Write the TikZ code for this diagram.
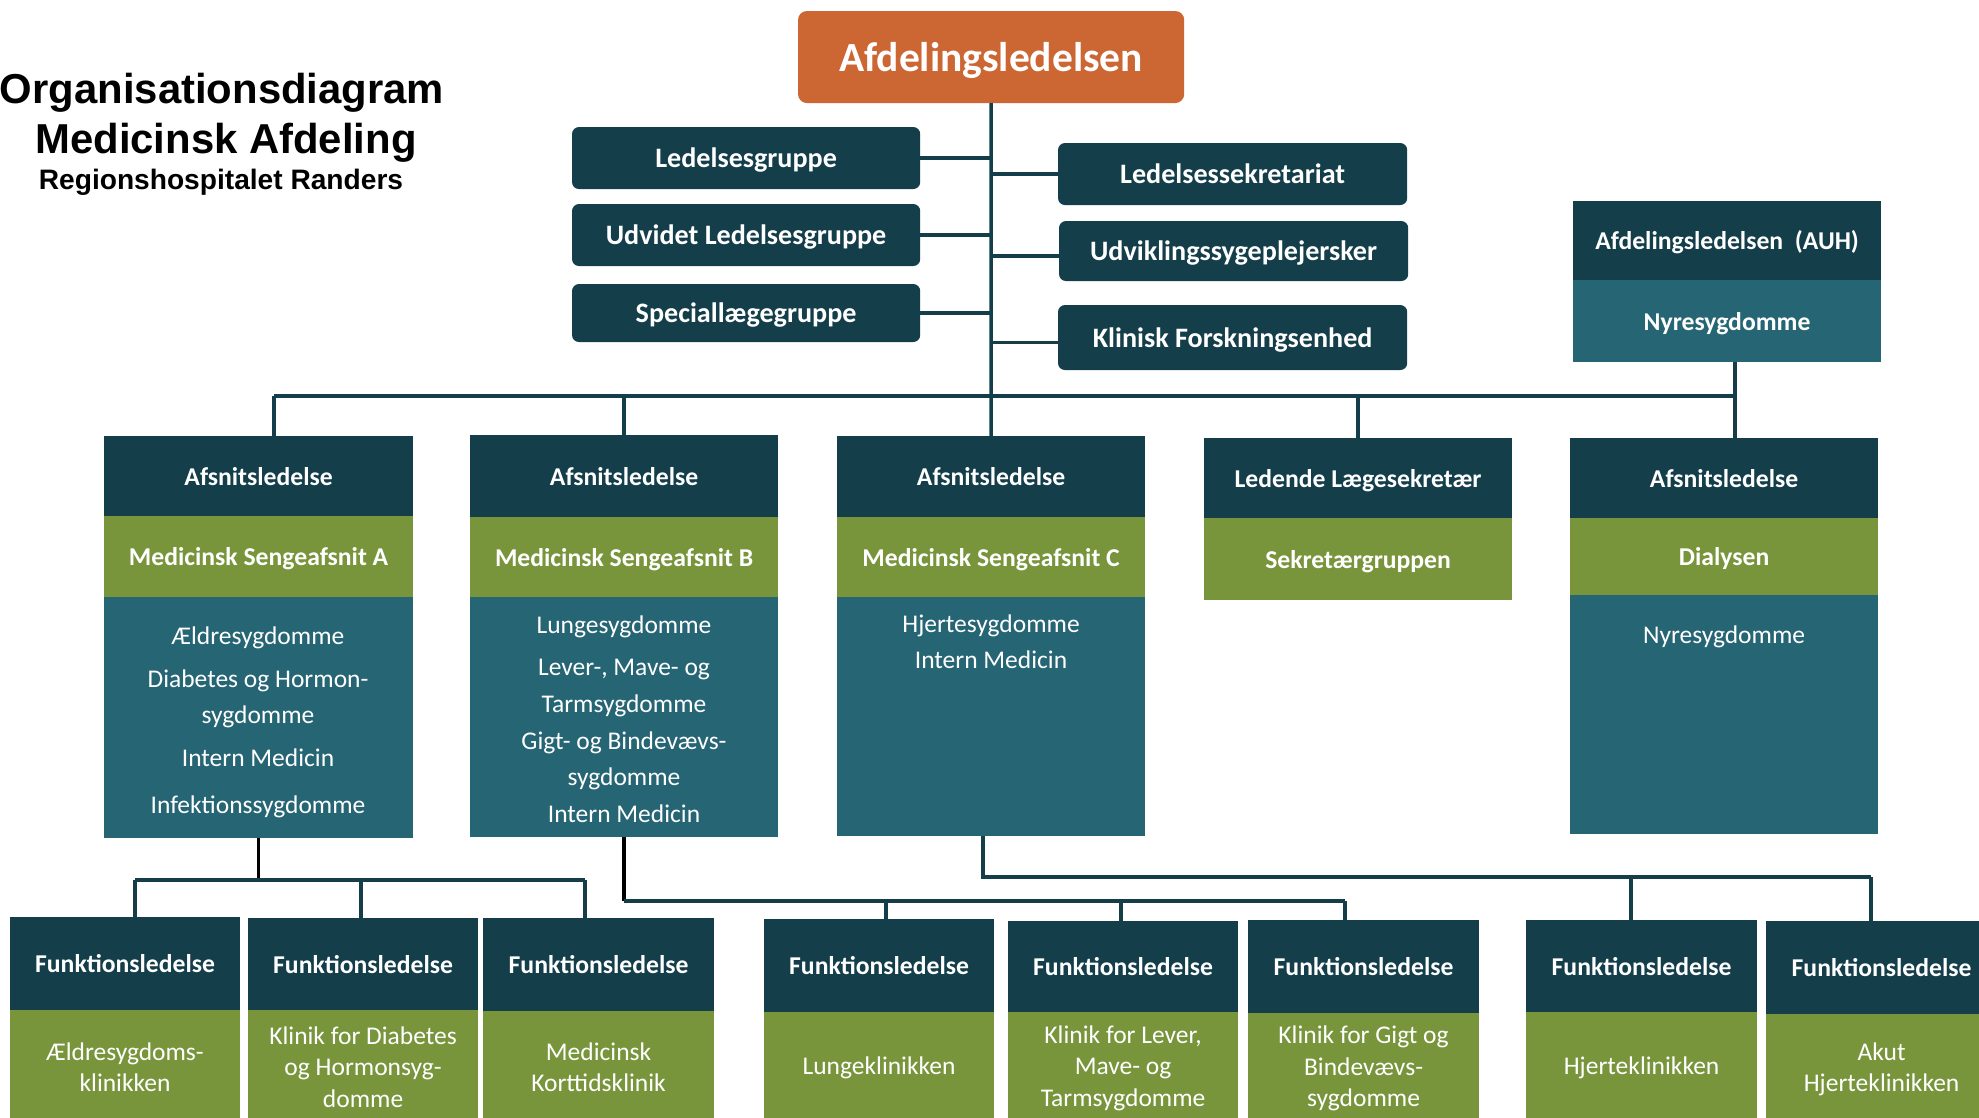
\documentclass[tikz,border=0pt]{standalone}
\usepackage{fontspec}
\setmainfont{Carlito}
\newfontfamily\titlefont{Liberation Sans}
\definecolor{dk}{HTML}{133E4A}
\definecolor{tl}{HTML}{266574}
\definecolor{gr}{HTML}{78953C}
\definecolor{og}{HTML}{CC6633}
\begin{document}
\begin{tikzpicture}[x=0.01cm,y=-0.01cm,
  box/.style={inner sep=0pt,outer sep=0pt,text=white,align=center,anchor=north west},
  hdr/.style={box,fill=dk,font=\bfseries\fontsize{7.3}{10}\selectfont,text height=5.1pt,text depth=0pt},
  grn/.style={box,fill=gr,font=\bfseries\fontsize{7.3}{10}\selectfont,text height=5.1pt,text depth=0pt},
  grnr/.style={box,fill=gr,font=\fontsize{7.25}{8.9}\selectfont},
  bdy/.style={box,fill=tl},
  btxt/.style={inner sep=0pt,outer sep=0pt,text=white,align=center,anchor=north,font=\fontsize{7.25}{10.25}\selectfont},
  ub/.style={box,fill=dk,rounded corners=0.07cm,font=\bfseries\fontsize{8}{10}\selectfont,text height=5.6pt,text depth=0pt},
  ttl/.style={inner sep=0pt,outer sep=0pt,anchor=base},
  con/.style={draw=dk,line width=1pt},
  blk/.style={draw=black,line width=1pt}]
\useasboundingbox (0,0) rectangle (1979,1117);
\fill[white] (0,0) rectangle (1979,1117);

% title
\node[ttl,font=\titlefont\bfseries\fontsize{11.9}{14}\selectfont] (t1) at (222,103) {Organisationsdiagram};
\node[ttl,font=\titlefont\bfseries\fontsize{11.9}{14}\selectfont] (t2) at (226,153) {Medicinsk Afdeling};
\node[ttl,font=\titlefont\bfseries\fontsize{8}{10}\selectfont] (t3) at (221,189) {Regionshospitalet Randers};

% top
\node[box,fill=og,rounded corners=0.09cm,minimum width=3.86cm,minimum height=0.92cm,font=\bfseries\fontsize{11.8}{14}\selectfont,text height=8.3pt,text depth=0pt] (top) at (798,11) {Afdelingsledelsen};

\node[ub,minimum width=3.48cm,minimum height=0.62cm] (lg1) at (572,127) {Ledelsesgruppe};
\node[ub,minimum width=3.48cm,minimum height=0.62cm] (lg2) at (572,204) {Udvidet Ledelsesgruppe};
\node[ub,minimum width=3.48cm,minimum height=0.58cm] (lg3) at (572,284) {Speciallægegruppe};
\node[ub,minimum width=3.49cm,minimum height=0.62cm] (rg1) at (1058,143) {Ledelsessekretariat};
\node[ub,minimum width=3.49cm,minimum height=0.60cm] (rg2) at (1059,221) {Udviklingssygeplejersker};
\node[ub,minimum width=3.49cm,minimum height=0.65cm] (rg3) at (1058,305) {Klinisk Forskningsenhed};

\node[hdr,minimum width=3.08cm,minimum height=0.79cm] (auhH) at (1573,201) {Afdelingsledelsen\ \ (AUH)};
\node[bdy,minimum width=3.08cm,minimum height=0.82cm,font=\bfseries\fontsize{7.3}{10}\selectfont,text height=5.1pt,text depth=0pt] (auhB) at (1573,280) {Nyresygdomme};

% row 2
\node[hdr,minimum width=3.09cm,minimum height=0.80cm] (aH) at (104,436) {Afsnitsledelse};
\node[grn,minimum width=3.09cm,minimum height=0.81cm] (aG) at (104,516) {Medicinsk Sengeafsnit A};
\node[bdy,minimum width=3.09cm,minimum height=2.41cm] (aB) at (104,597) {};
\node[btxt] (aT) at (258,627) {Ældresygdomme\\[2pt]Diabetes og Hormon-\\sygdomme\\[2pt]Intern Medicin\\[3pt]Infektionssygdomme};

\node[hdr,minimum width=3.08cm,minimum height=0.82cm] (bH) at (470,435) {Afsnitsledelse};
\node[grn,minimum width=3.08cm,minimum height=0.80cm] (bG) at (470,517) {Medicinsk Sengeafsnit B};
\node[bdy,minimum width=3.08cm,minimum height=2.40cm] (bB) at (470,597) {};
\node[btxt,font=\fontsize{7.25}{10.45}\selectfont] (bT) at (624,616) {Lungesygdomme\\[1.5pt]Lever-, Mave- og\\Tarmsygdomme\\Gigt- og Bindevævs-\\sygdomme\\Intern Medicin};

\node[hdr,minimum width=3.08cm,minimum height=0.81cm] (cH) at (837,436) {Afsnitsledelse};
\node[grn,minimum width=3.08cm,minimum height=0.80cm] (cG) at (837,517) {Medicinsk Sengeafsnit C};
\node[bdy,minimum width=3.08cm,minimum height=2.39cm] (cB) at (837,597) {};
\node[btxt] (cT) at (991,615) {Hjertesygdomme\\Intern Medicin};

\node[hdr,minimum width=3.08cm,minimum height=0.80cm] (dH) at (1204,438) {Ledende Lægesekretær};
\node[grn,minimum width=3.08cm,minimum height=0.82cm] (dG) at (1204,518) {Sekretærgruppen};

\node[hdr,minimum width=3.08cm,minimum height=0.80cm] (eH) at (1570,438) {Afsnitsledelse};
\node[grn,minimum width=3.08cm,minimum height=0.77cm] (eG) at (1570,518) {Dialysen};
\node[bdy,minimum width=3.08cm,minimum height=2.39cm] (eB) at (1570,595) {};
\node[btxt] (eT) at (1724,626) {Nyresygdomme};

% row 3
\node[hdr,minimum width=2.30cm,minimum height=0.93cm] (f1H) at (10,917) {Funktionsledelse};
\node[grnr,minimum width=2.30cm,minimum height=1.14cm] (f1G) at (10,1010) {Ældresygdoms-\\klinikken};
\node[hdr,minimum width=2.30cm,minimum height=0.92cm] (f2H) at (248,918) {Funktionsledelse};
\node[grnr,minimum width=2.30cm,minimum height=1.14cm] (f2G) at (248,1010) {Klinik for Diabetes\\og Hormonsyg-\\domme};
\node[hdr,minimum width=2.31cm,minimum height=0.93cm] (f3H) at (483,918) {Funktionsledelse};
\node[grnr,minimum width=2.31cm,minimum height=1.13cm] (f3G) at (483,1011) {Medicinsk\\Korttidsklinik};

\node[hdr,minimum width=2.30cm,minimum height=0.93cm] (f4H) at (764,919) {Funktionsledelse};
\node[grnr,minimum width=2.30cm,minimum height=1.12cm] (f4G) at (764,1012) {Lungeklinikken};
\node[hdr,minimum width=2.30cm,minimum height=0.91cm] (f5H) at (1008,921) {Funktionsledelse};
\node[grnr,minimum width=2.30cm,minimum height=1.12cm] (f5G) at (1008,1012) {Klinik for Lever,\\Mave- og\\Tarmsygdomme};
\node[hdr,minimum width=2.31cm,minimum height=0.93cm] (f6H) at (1248,920) {Funktionsledelse};
\node[grnr,minimum width=2.31cm,minimum height=1.11cm] (f6G) at (1248,1013) {Klinik for Gigt og\\Bindevævs-\\sygdomme};

\node[hdr,minimum width=2.31cm,minimum height=0.92cm] (f7H) at (1526,920) {Funktionsledelse};
\node[grnr,minimum width=2.31cm,minimum height=1.12cm] (f7G) at (1526,1012) {Hjerteklinikken};
\node[hdr,minimum width=2.31cm,minimum height=0.93cm] (f8H) at (1766,921) {Funktionsledelse};
\node[grnr,minimum width=2.31cm,minimum height=1.10cm] (f8G) at (1766,1014) {Akut\\Hjerteklinikken};

% connectors top
\draw[con] (top.south) -- (cH.north);
\draw[con] (lg1.east) -- (lg1.east -| top.south);
\draw[con] (lg2.east) -- (lg2.east -| top.south);
\draw[con] (lg3.east) -- (lg3.east -| top.south);
\draw[con] (rg1.west) -- (rg1.west -| top.south);
\draw[con] ([yshift=-0.05cm]rg2.west) -- ([yshift=-0.05cm]rg2.west -| top.south);
\draw[con] ([yshift=-0.05cm]rg3.west) -- ([yshift=-0.05cm]rg3.west -| top.south);

\coordinate (busL) at (274,396);
\coordinate (busR) at (1735,396);
\draw[con] (busL) -- (busR);
\draw[con] (busL) -- (busL |- aH.north);
\draw[con] (bH.north) -- (bH.north |- busL);
\draw[con] (dH.north) -- (dH.north |- busL);
\draw[con] (busR |- auhB.south) -- (busR |- eH.north);

% connectors lower
\coordinate (f1d) at (135,880);
\coordinate (f2d) at (361,880);
\coordinate (f3d) at (585,880);
\draw[blk] (aB.south) -- (aB.south |- f1d);
\draw[con] (f1d) -- (f3d);
\draw[con] (f1d) -- (f1d |- f1H.north);
\draw[con] (f2d) -- (f2d |- f2H.north);
\draw[con] (f3d) -- (f3d |- f3H.north);

\coordinate (f4d) at (886,901);
\coordinate (f5d) at (1121,901);
\coordinate (f6d) at (1345,901);
\draw[blk] (bB.south) -- (bB.south |- f4d);
\draw[con] (bB.south |- f4d) -- (f6d);
\draw[con] (f4d) -- (f4d |- f4H.north);
\draw[con] (f5d) -- (f5d |- f5H.north);
\draw[con] (f6d) -- (f6d |- f6H.north);

\coordinate (f7d) at (1631,877);
\coordinate (f8d) at (1871,877);
\draw[con] ([xshift=-0.08cm]cB.south) |- (f8d);
\draw[con] (f7d) -- (f7d |- f7H.north);
\draw[con] (f8d) -- (f8d |- f8H.north);
\end{tikzpicture}
\end{document}
